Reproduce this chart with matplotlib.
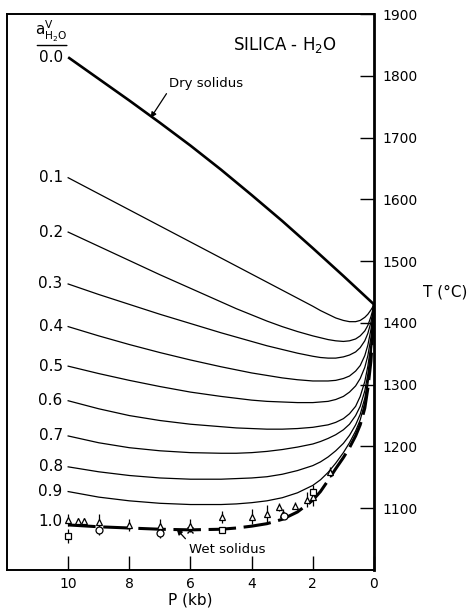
import matplotlib.pyplot as plt

# pressure grid (kb) for the a(H2O) isopleths
P = [10, 9, 8, 7, 6, 5, 4.5, 4, 3.5, 3, 2.5, 2, 1.75, 1.5, 1.25, 1.0, 0.8, 0.6, 0.45, 0.3, 0.2, 0.1, 0.05, 0]

# dry solidus
P_dry = [10, 9, 8, 7, 6, 5, 4, 3, 2, 1, 0]
T_dry = [1830, 1795, 1760, 1724, 1687, 1648, 1607, 1565, 1521, 1476, 1430]

a_labels = ['0.1', '0.2', '0.3', '0.4', '0.5', '0.6', '0.7', '0.8', '0.9']
T_01 = [1635, 1609, 1583, 1557, 1531, 1505, 1492, 1479, 1466, 1453, 1440, 1427, 1420, 1414, 1408, 1404, 1402, 1402, 1404, 1409, 1414, 1421, 1425, 1430]
T_02 = [1547, 1524, 1501, 1478, 1456, 1434, 1423, 1413, 1403, 1394, 1386, 1379, 1376, 1373, 1371, 1370, 1371, 1374, 1379, 1387, 1396, 1410, 1419, 1430]
T_03 = [1463, 1446, 1430, 1414, 1399, 1384, 1377, 1370, 1363, 1357, 1351, 1346, 1344, 1343, 1343, 1345, 1348, 1353, 1360, 1371, 1383, 1401, 1414, 1430]
T_04 = [1394, 1379, 1365, 1352, 1340, 1329, 1324, 1319, 1315, 1311, 1308, 1306, 1306, 1306, 1307, 1310, 1314, 1322, 1331, 1347, 1364, 1389, 1407, 1430]
T_05 = [1330, 1318, 1307, 1297, 1288, 1281, 1278, 1275, 1273, 1272, 1271, 1271, 1272, 1273, 1276, 1281, 1288, 1298, 1310, 1328, 1347, 1376, 1400, 1430]
T_06 = [1274, 1261, 1250, 1242, 1236, 1232, 1230, 1229, 1228, 1228, 1229, 1231, 1233, 1235, 1239, 1245, 1253, 1265, 1281, 1305, 1330, 1364, 1393, 1430]
T_07 = [1217, 1206, 1198, 1193, 1190, 1189, 1189, 1190, 1192, 1195, 1199, 1204, 1208, 1213, 1219, 1227, 1236, 1250, 1265, 1290, 1317, 1356, 1387, 1430]
T_08 = [1167, 1159, 1153, 1149, 1147, 1147, 1148, 1149, 1151, 1155, 1161, 1169, 1175, 1183, 1193, 1205, 1218, 1235, 1252, 1278, 1308, 1349, 1382, 1430]
T_09 = [1127, 1118, 1112, 1108, 1106, 1106, 1107, 1109, 1112, 1117, 1125, 1137, 1146, 1158, 1173, 1190, 1206, 1225, 1243, 1270, 1300, 1343, 1378, 1430]
# wet solidus (a = 1.0)
T_wet = [1073, 1070, 1068, 1066, 1065, 1066, 1068, 1071, 1075, 1082, 1094, 1113, 1127, 1145, 1164, 1182, 1198, 1217, 1235, 1262, 1294, 1338, 1375, 1430]

# experimental brackets
tri_P = [10.0, 9.67, 9.48, 9.0, 8.0, 7.0, 6.0, 4.97, 4.0, 3.5, 3.1, 2.97, 2.58, 2.2, 2.0, 1.45]
tri_T = [1081, 1080, 1080, 1078, 1073, 1072, 1072, 1086, 1086, 1091, 1102, 1091, 1104, 1114, 1118, 1159]
tri_err = [10, 4, 4, 12, 10, 10, 10, 10, 12, 15, 6, 8, 6, 12, 15, 8]
circ_P = [9.0, 7.0, 2.95]
circ_T = [1064, 1060, 1088]
circ_err = [8, 8, 4]
sq_P = [10.0, 4.97, 2.0]
sq_T = [1055, 1065, 1127]
sq_err = [12, 4, 10]
star_P = [6.0]
star_T = [1064]

plt.rcParams['font.family'] = 'DejaVu Sans'
fig = plt.figure(figsize=(4.75, 6.12), dpi=100)
ax = fig.add_axes([0.0147, 0.0686, 0.7726, 0.9085])

ax.plot(P_dry, T_dry, color='black', lw=1.9, solid_capstyle='butt')
curves = [T_01, T_02, T_03, T_04, T_05, T_06, T_07, T_08, T_09]
for lab, T in zip(a_labels, curves):
    ax.plot(P, T, color='black', lw=0.9)
    ax.text(P[0] + 0.18, T[0], lab, ha='right', va='center', fontsize=11)
ax.plot(P, T_wet, color='black', lw=2.2, dashes=(9, 2.5), dash_capstyle='butt')

ax.text(P_dry[0] + 0.18, T_dry[0], '0.0', ha='right', va='center', fontsize=11)
ax.text(P[0] + 0.18, T_wet[0] + 6, '1.0', ha='right', va='center', fontsize=11)

mk = dict(ls='none', color='black', mfc='white', mew=0.9, elinewidth=0.9, capsize=0, ms=5)
ax.errorbar(tri_P, tri_T, yerr=tri_err, fmt='^', **mk)
ax.errorbar(circ_P, circ_T, yerr=circ_err, fmt='o', **mk)
ax.errorbar(sq_P, sq_T, yerr=sq_err, fmt='s', **mk)
ax.plot(star_P, star_T, marker='x', color='black', ms=5, ls='none')

# header of the label column
ax.text(10.55, 1871, r'$\mathrm{a}^{\mathrm{V}}_{\mathrm{H_2O}}$', ha='center', va='center', fontsize=11)
ax.annotate('', xy=(9.95, 1849), xytext=(11.1, 1849),
            arrowprops=dict(arrowstyle='-', lw=1.0, color='black'))

ax.text(4.6, 1850, 'SILICA - H$_2$O', ha='left', va='center', fontsize=12)

ax.annotate('Dry solidus', xy=(7.3, 1732), xytext=(6.7, 1788),
            ha='left', va='center', fontsize=9.5,
            arrowprops=dict(arrowstyle='-|>', lw=0.9, color='black', mutation_scale=8,
                            shrinkA=1, shrinkB=0, relpos=(0, 0)))
ax.annotate('Wet solidus', xy=(6.45, 1066), xytext=(6.05, 1034),
            ha='left', va='center', fontsize=9.5,
            arrowprops=dict(arrowstyle='-|>', lw=0.9, color='black', mutation_scale=8,
                            shrinkA=1, shrinkB=0, relpos=(0, 1)))

ax.set_xlim(12, 0)
ax.set_ylim(1000, 1900)
ax.set_xticks([10, 8, 6, 4, 2, 0])
ax.set_xticklabels(['10', '8', '6', '4', '2', '0'])
ax.set_yticks([1100, 1200, 1300, 1400, 1500, 1600, 1700, 1800, 1900])
ax.yaxis.tick_right()
ax.tick_params(direction='in', length=10, width=1.0, labelsize=10)
ax.tick_params(axis='y', pad=6)
ax.tick_params(axis='x', pad=5)

ax.yaxis.set_label_position('right')
ax.set_ylabel('T (°C)', rotation=0, ha='left', va='center', fontsize=11)
ax.yaxis.set_label_coords(1.133, 0.5)
ax.set_xlabel('P (kb)', fontsize=11, va='center')
ax.xaxis.set_label_coords(0.5, -0.054)

for s in ['left', 'top', 'bottom']:
    ax.spines[s].set_linewidth(1.4)
ax.spines['right'].set_linewidth(2.0)

fig.savefig('out.png', dpi=100)
